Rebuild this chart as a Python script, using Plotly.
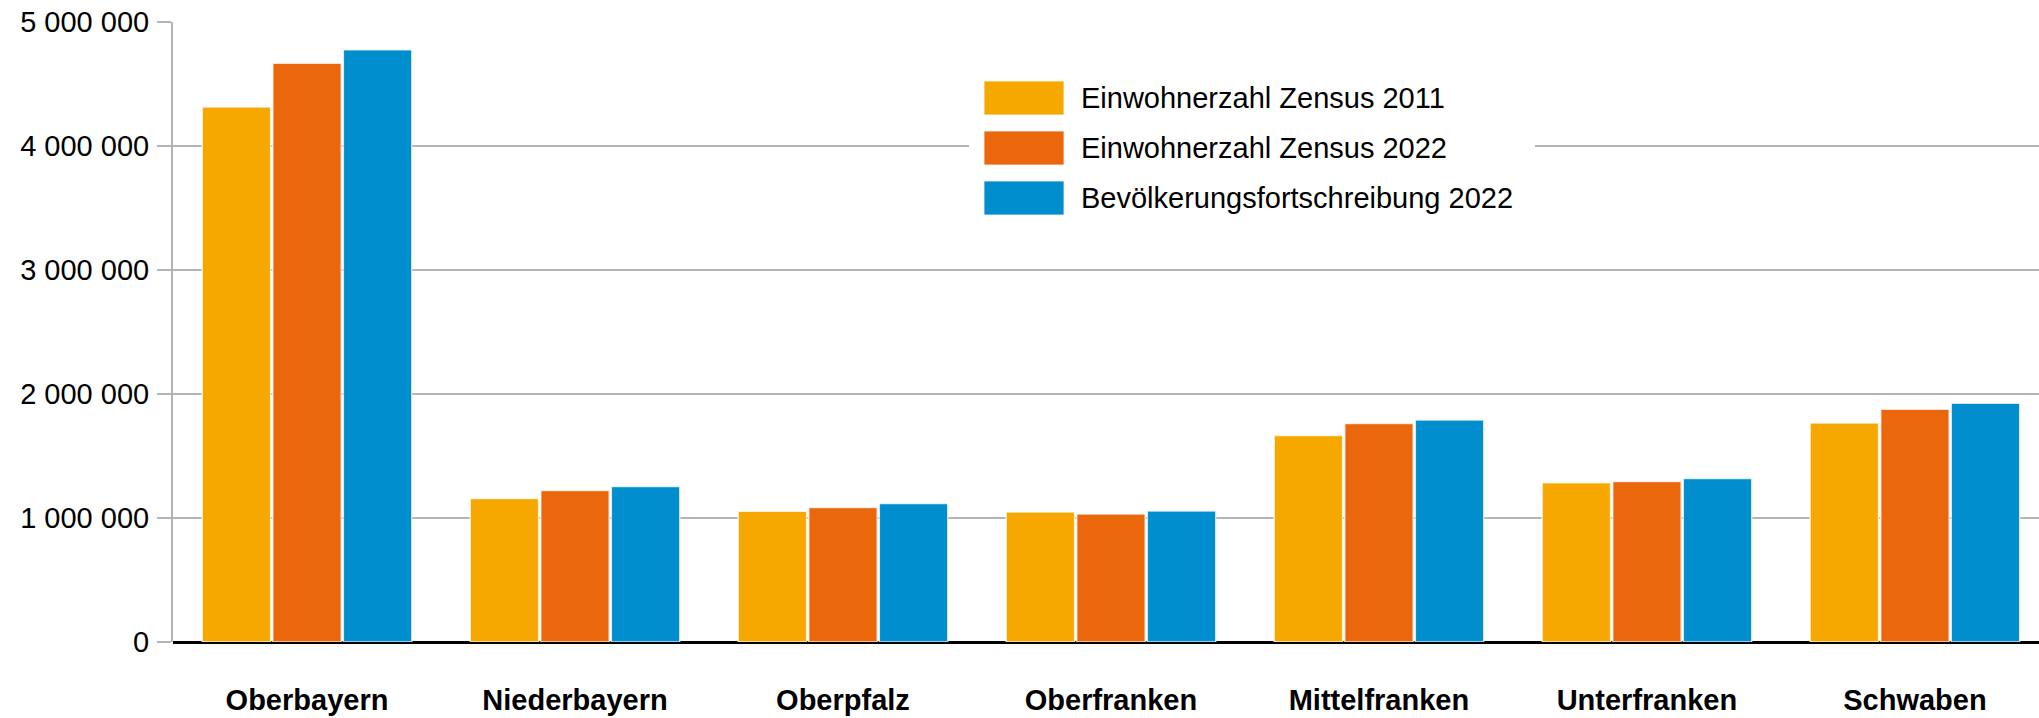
import plotly.graph_objects as go

categories = ["Oberbayern", "Niederbayern", "Oberpfalz", "Oberfranken",
              "Mittelfranken", "Unterfranken", "Schwaben"]
series_names = ["Einwohnerzahl Zensus 2011", "Einwohnerzahl Zensus 2022",
                "Bevölkerungsfortschreibung 2022"]
zensus_2011 = [4315000, 1158000, 1054000, 1049000, 1666000, 1284000, 1766000]
zensus_2022 = [4667000, 1221000, 1085000, 1032000, 1762000, 1295000, 1877000]
fortschreibung_2022 = [4776000, 1255000, 1116000, 1057000, 1790000, 1318000, 1926000]
tick_values = [0, 1000000, 2000000, 3000000, 4000000, 5000000]

colors = ["#F6A800", "#EA670B", "#008ECF"]
series_values = [zensus_2011, zensus_2022, fortschreibung_2022]

fig = go.Figure()
for name, vals, col in zip(series_names, series_values, colors):
    fig.add_trace(go.Bar(
        x=categories, y=vals, name=name,
        marker=dict(color=col, line=dict(color="rgba(255,255,255,0.75)", width=1.5)),
        showlegend=False,
    ))

W, H = 2039, 718
ml, mt, mb = 173, 22, 76

fig.update_layout(
    width=W, height=H,
    margin=dict(l=ml, r=0, t=mt, b=mb, pad=0),
    paper_bgcolor="white", plot_bgcolor="white",
    barmode="group", bargap=0.21, bargroupgap=0.03,
    separators=", ",
    font=dict(family="Liberation Sans, Arial, sans-serif", size=29, color="black"),
    xaxis=dict(
        range=[-0.5, 6.463], showgrid=False, showline=False, ticks="",
        tickfont=dict(family="Liberation Sans, Arial, sans-serif", size=29, color="black", weight="bold"),
        ticklabelstandoff=38, fixedrange=True,
    ),
    yaxis=dict(
        range=[0, 5000000], tickvals=tick_values, tickformat=",d",
        showgrid=True, gridcolor="#B4B4B4", gridwidth=2,
        showline=True, linecolor="#B4B4B4", linewidth=2,
        ticks="outside", ticklen=14, tickcolor="#B4B4B4", tickwidth=2,
        ticklabelstandoff=2,
        zeroline=True, zerolinecolor="black", zerolinewidth=3,
        tickfont=dict(size=29, color="black"), fixedrange=True,
    ),
)

pw = W - ml
ph = H - mt - mb

def px_x(x):
    return (x - ml) / pw

def px_y(y):
    return 1 - (y - mt) / ph

fig.add_shape(type="rect", xref="paper", yref="paper",
              x0=px_x(969), x1=px_x(1535), y0=px_y(228), y1=px_y(70),
              fillcolor="white", line=dict(width=0), layer="above")
row_centers = [98, 148, 198]
for name, col, yc in zip(series_names, colors, row_centers):
    fig.add_shape(type="rect", xref="paper", yref="paper",
                  x0=px_x(984), x1=px_x(1064), y0=px_y(yc + 17), y1=px_y(yc - 17),
                  fillcolor=col, line=dict(color="rgba(255,255,255,0.75)", width=1),
                  layer="above")
    fig.add_annotation(xref="paper", yref="paper", x=px_x(1079), y=px_y(yc),
                       text=name, showarrow=False, xanchor="left", yanchor="middle",
                       font=dict(size=29, color="black"))

fig.write_html("out.html", config={"displayModeBar": False},
               post_script="document.body.style.margin='0';document.body.style.overflow='hidden';")
